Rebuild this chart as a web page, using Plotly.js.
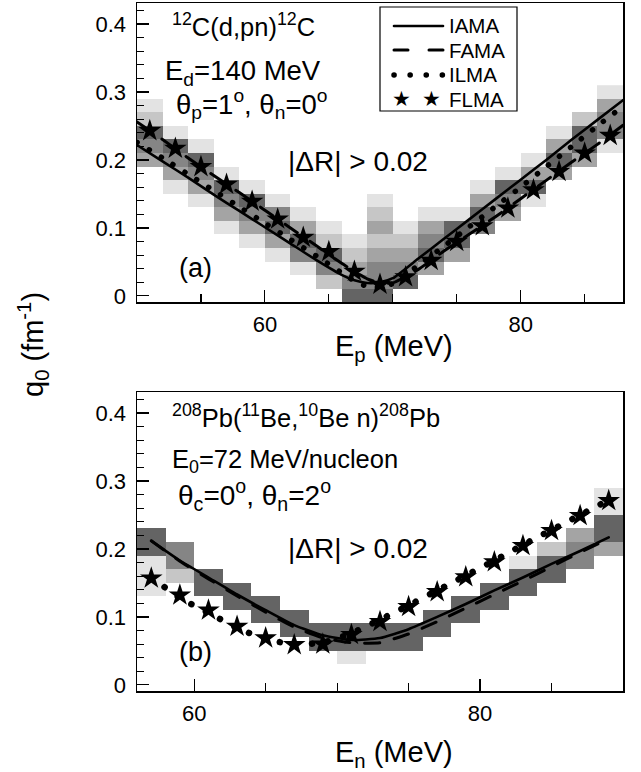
<!DOCTYPE html>
<html><head><meta charset="utf-8">
<script src="https://cdn.plot.ly/plotly-3.0.1.min.js"></script>
<style>
html,body{margin:0;padding:0;background:#fff;}
#chart{width:641px;height:772px;}
.js-line{stroke-linecap:round;}
.shapelayer path{stroke-linecap:round;}
</style></head><body><div id="chart"></div><script>
// ---------- panel (a): 12C(d,pn)12C ----------
const cellXA = [51,53,55,57,59,61,63,65,67,69,71,73,75,77,79,81,83,85,87];
const cellYTop = [0.30,0.28,0.26,0.24,0.22,0.20,0.18,0.16,0.14,0.12,0.10,0.08,0.06,0.04,0.02,0.00];
// shade level per cell (0 = empty), rows from q0=0.30 down to 0.00, one char per column
const shadeRowsA = [
 "0000000000000000001",
 "1000000000000000003",
 "2000000000000000024",
 "5100000000000000154",
 "4510000000000000351",
 "3450000000000001530",
 "0341000000000013300",
 "0135100000000155000",
 "0014510001000341000",
 "0003441002011530000",
 "0001353103135400000",
 "0000135212245000000",
 "0000014523353000000",
 "0000001434430000000",
 "0000000244500000000",
 "0000000055000000000"
];
const epA   = [50,52,54,56,58,60,62,64,66,67,68,69,70,72,74,76,78,80,82,84,86,88];
const iamaA = [0.222,0.198,0.174,0.149,0.125,0.101,0.077,0.053,0.031,0.023,0.019,0.020,0.026,0.055,0.084,0.113,0.142,0.171,0.200,0.230,0.259,0.288];
const famaA = [0.256,0.230,0.203,0.177,0.152,0.126,0.100,0.074,0.048,0.036,0.025,0.019,0.019,0.039,0.066,0.091,0.116,0.143,0.170,0.197,0.223,0.251];
const ilmaA = [0.226,0.203,0.179,0.155,0.131,0.107,0.083,0.059,0.034,0.022,0.014,0.013,0.018,0.045,0.073,0.102,0.131,0.160,0.190,0.220,0.250,0.279];
const starXA = [51,53,55,57,59,61,63,65,67,69,71,73,75,77,79,81,83,85,87];
const flmaA  = [0.243,0.217,0.190,0.164,0.139,0.113,0.086,0.065,0.036,0.017,0.028,0.052,0.080,0.103,0.129,0.156,0.183,0.210,0.236];

// ---------- panel (b): 208Pb(11Be,10Be n)208Pb ----------
const cellXB = [57,59,61,63,65,67,69,71,73,75,77,79,81,83,85,87,89];
const shadeRowsB = [
 "00000000000000000",
 "00000000000000001",
 "00000000000000001",
 "00000000000000005",
 "50000000000000035",
 "54000000000000243",
 "14000000000001540",
 "12500000000005500",
 "10550000000055000",
 "00055000000550000",
 "00005500005500000",
 "00000555555000000",
 "00000055550000000",
 "00000001000000000",
 "00000000000000000",
 "00000000000000000"
];
const enB   = [57,59,61,63,65,67,69,71,73,75,77,79,81,83,85,87,89];
const iamaB = [0.212,0.183,0.158,0.133,0.110,0.088,0.073,0.066,0.069,0.082,0.100,0.119,0.139,0.158,0.178,0.197,0.217];
const famaB = [0.212,0.182,0.156,0.131,0.107,0.085,0.069,0.062,0.062,0.075,0.093,0.113,0.133,0.153,0.174,0.195,0.215];
const ilmaB = [0.158,0.128,0.106,0.084,0.067,0.060,0.062,0.076,0.096,0.117,0.139,0.161,0.183,0.206,0.228,0.250,0.272];
const flmaB = [0.157,0.132,0.110,0.086,0.069,0.059,0.060,0.074,0.093,0.115,0.137,0.159,0.181,0.205,0.227,0.249,0.271];

const seriesNames = ['IAMA','FAMA','ILMA','FLMA'];

const shadeScale = [[0,'#e3e3e3'],[0.25,'#c6c6c6'],[0.5,'#a4a4a4'],[0.75,'#858585'],[1,'#646464']];
function gridZ(rows){ return rows.map(r => r.split('').map(c => c === '0' ? null : +c)).reverse(); }
const cellY = cellYTop.slice().reverse();

const FONT = 'Liberation Sans, Arial, Helvetica, sans-serif';
const L = 137, R = 623, T = 3, B = 691, W = 641, H = 772;
const px = v => (v - L) / (R - L);
const py = v => (B - v) / (B - T);

const styles = {
  IAMA:{dash:'solid', width:2.6},
  FAMA:{dash:'15px,15px', width:3},
  ILMA:{dash:'0.1px,14px', width:5.5}
};

function heat(xs, rows, xa, ya){
  return {type:'heatmap', x: xs, y: cellY, z: gridZ(rows), xaxis: xa, yaxis: ya,
    colorscale: shadeScale, zmin:1, zmax:5, showscale:false, hoverinfo:'skip', zsmooth:false};
}
function line(xs, ys, name, xa, ya, dashOverride, widthOverride){
  return {type:'scatter', mode:'lines', x: xs, y: ys, name: name, xaxis: xa, yaxis: ya,
    line:{color:'#000', width: widthOverride || styles[name].width, dash: dashOverride || styles[name].dash, shape:'spline', smoothing:0.5},
    showlegend:false};
}
function stars(xs, ys, xa, ya){
  return {type:'scatter', mode:'markers', x: xs, y: ys, name:'FLMA', xaxis: xa, yaxis: ya,
    marker:{symbol:'star', size:17, color:'#000', line:{width:0}}, showlegend:false};
}

const data = [
  heat(cellXA, shadeRowsA, 'x', 'y'),
  heat(cellXB, shadeRowsB, 'x2', 'y2'),
  line(epA, iamaA, 'IAMA', 'x', 'y'),
  line(epA, famaA, 'FAMA', 'x', 'y'),
  line(epA, ilmaA, 'ILMA', 'x', 'y'),
  stars(starXA, flmaA, 'x', 'y'),
  line(enB, iamaB, 'IAMA', 'x2', 'y2'),
  line(enB, famaB, 'FAMA', 'x2', 'y2'),
  line(enB, ilmaB, 'ILMA', 'x2', 'y2', '0.1px,16px', 6.5),
  stars(enB, flmaB, 'x2', 'y2')
];

function xAxis(range, anchor){
  return {range: range, anchor: anchor, showline:true, linewidth:1.5, linecolor:'#000', mirror:true,
    ticks:'inside', ticklen:12, tickwidth:1.2, tickcolor:'#000', dtick:20, tick0:0,
    minor:{dtick:5, ticks:'inside', ticklen:8, tickwidth:1.2, tickcolor:'#000', showgrid:false},
    showgrid:false, zeroline:false, ticklabelstandoff:2,
    tickfont:{family:FONT, size:22, color:'#000'}};
}
function yAxis(domain, anchor){
  return {domain: domain, anchor: anchor, range:[-0.009,0.431], showline:true, linewidth:1.5, linecolor:'#000', mirror:true,
    ticks:'inside', ticklen:12, tickwidth:1.2, tickcolor:'#000', dtick:0.1, tick0:0,
    minor:{dtick:0.02, ticks:'inside', ticklen:7, tickwidth:1.2, tickcolor:'#000', showgrid:false},
    showgrid:false, zeroline:false, ticklabelstandoff:5,
    tickfont:{family:FONT, size:22, color:'#000'}};
}

function ann(text, x, y, size, xanchor, extra){
  return Object.assign({text: text, xref:'paper', yref:'paper', x: px(x), y: py(y), xanchor: xanchor, yanchor:'middle',
    showarrow:false, font:{family:FONT, size:size, color:'#000'}}, extra || {});
}

// legend box drawn by hand (box, sample lines, labels)
const legBox = {x0:380, x1:517, y0:7, y1:111};
const legRowsY = [26, 50, 75, 99];
const legSampleX = [394, 443];
const shapes = [
  {type:'rect', xref:'paper', yref:'paper', x0:px(legBox.x0), x1:px(legBox.x1), y0:py(legBox.y1), y1:py(legBox.y0),
   line:{color:'#000', width:1.2}, fillcolor:'#fff', layer:'above'}
];
['IAMA','FAMA','ILMA'].forEach((n,i) => {
  shapes.push({type:'line', xref:'paper', yref:'paper', x0:px(legSampleX[0]), x1:px(legSampleX[1]),
    y0:py(legRowsY[i]), y1:py(legRowsY[i]), line:{color:'#000', width:styles[n].width, dash: n==='FAMA' ? '14px,21px' : (n==='ILMA' ? '0.1px,16px' : 'solid')}, layer:'above'});
});

const annotations = [
  ann('<sup>12</sup>C(d,pn)<sup>12</sup>C', 170, 25, 25.5, 'left'),
  ann('E<sub>d</sub>=140 MeV', 163, 73, 27.5, 'left'),
  ann('θ<sub>p</sub>=1<sup>o</sup>, θ<sub>n</sub>=0<sup>o</sup>', 174, 104, 27.5, 'left'),
  ann('|ΔR| > 0.02', 358, 162, 28, 'center'),
  ann('(a)', 195, 268, 27, 'center'),
  ann('<sup>208</sup>Pb(<sup>11</sup>Be,<sup>10</sup>Be n)<sup>208</sup>Pb', 170, 416, 25.5, 'left'),
  ann('E<sub>0</sub>=72 MeV/nucleon', 170, 461, 25.5, 'left'),
  ann('θ<sub>c</sub>=0<sup>o</sup>, θ<sub>n</sub>=2<sup>o</sup>', 176, 495, 28, 'left'),
  ann('|ΔR| > 0.02', 358, 548, 28, 'center'),
  ann('(b)', 195, 652, 27, 'center'),
  ann('E<sub>p</sub> (MeV)', 394, 348, 29, 'center'),
  ann('E<sub>n</sub> (MeV)', 394, 754, 29, 'center'),
  ann('q<sub>0</sub> (fm<sup>-1</sup>)', 33, 345, 29, 'center', {textangle:-90})
];
seriesNames.forEach((n,i) => annotations.push(ann(n, 447, legRowsY[i], 20.5, 'left')));
annotations.push(ann('★', 401, legRowsY[3], 21, 'center', {font:{family:'DejaVu Sans', size:21, color:'#000'}}));
annotations.push(ann('★', 431, legRowsY[3], 21, 'center', {font:{family:'DejaVu Sans', size:21, color:'#000'}}));

const layout = {
  width: W, height: H,
  margin:{l:L, r:W-R, t:T, b:H-B, pad:0},
  paper_bgcolor:'#fff', plot_bgcolor:'#fff',
  font:{family:FONT, color:'#000'},
  xaxis: xAxis([50,88], 'y'),
  yaxis: yAxis([py(302), 1], 'x'),
  xaxis2: xAxis([56,90], 'y2'),
  yaxis2: yAxis([0, py(392)], 'x2'),
  showlegend:false,
  shapes: shapes,
  annotations: annotations
};

Plotly.newPlot('chart', data, layout, {staticPlot:true, displayModeBar:false});
</script></body></html>
